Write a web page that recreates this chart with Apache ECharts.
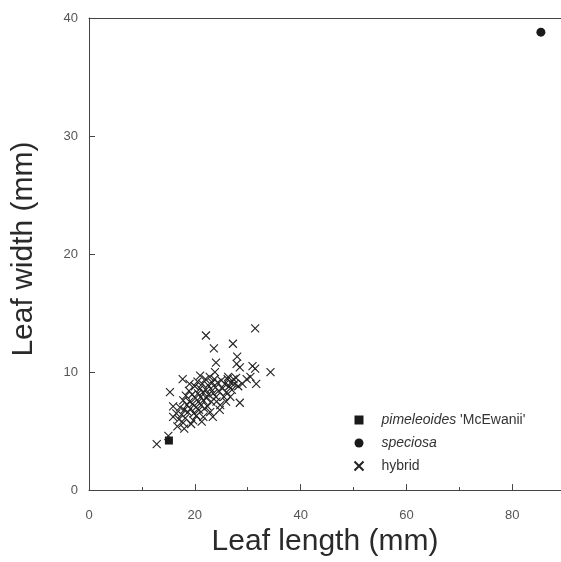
<!DOCTYPE html>
<html>
<head>
<meta charset="utf-8">
<script src="https://cdn.jsdelivr.net/npm/echarts@6/dist/echarts.min.js"></script>
<style>
html,body{margin:0;padding:0;background:#fff;}
#chart{width:561px;height:562px;}
</style>
</head>
<body>
<div id="chart"></div>
<script>
var seriesNames = ["pimeleoides 'McEwanii'", "speciosa", "hybrid"];
var pimeleoidesData = [[15.1, 4.2]];
var speciosaData = [[85.4, 38.8]];
var hybridData = [
  [31.4,13.7],[22.1,13.1],[27.2,12.4],[23.6,12.0],[24.0,10.8],[28.0,11.3],[27.9,10.7],[28.5,10.4],
  [30.9,10.5],[31.4,10.3],[34.3,10.0],[31.6,9.0],[17.7,9.4],[15.3,8.3],[21.0,9.7],[28.5,7.4],
  [12.8,3.9],[15.0,4.6],[26.3,9.6],[27.3,9.4],[29.8,9.4],[25.9,7.5],[24.1,7.5],[23.4,6.2],
  [21.6,6.2],[19.7,5.9],[17.8,5.7],[16.7,5.4],[15.9,6.2],[15.9,7.1],
  [16.5,6.5],[17.0,6.0],[17.2,7.0],[17.5,6.4],[17.8,7.6],[18.0,6.8],[18.2,6.1],[18.3,8.0],
  [18.5,7.2],[18.7,6.6],[18.9,8.4],[19.0,7.5],[19.2,6.9],[19.3,5.6],[19.5,8.1],[19.6,7.3],
  [19.8,6.5],[20.0,8.8],[20.1,7.8],[20.2,7.0],[20.3,6.3],[20.5,9.2],[20.6,8.2],[20.7,7.5],
  [20.8,6.8],[21.0,8.6],[21.1,7.9],[21.2,7.2],[21.4,9.0],[21.5,8.3],[21.6,7.6],[21.8,6.9],
  [22.0,9.4],[22.1,8.5],[22.2,7.8],[22.4,7.1],[22.5,8.9],[22.6,8.1],[22.8,9.6],[23.0,8.6],
  [23.1,7.5],[23.3,9.1],[23.5,8.2],[23.7,9.4],[23.9,8.7],[24.0,7.9],[24.3,9.1],[24.5,8.4],
  [24.7,6.8],[25.0,9.3],[25.2,8.6],[25.5,7.9],[25.7,9.0],[26.0,8.3],[26.2,9.4],[26.5,8.8],
  [26.8,9.1],[27.0,8.5],[27.5,9.0],[27.8,9.5],[28.2,8.8],[22.9,6.6],[24.8,7.2],[19.0,9.0],
  [21.3,5.8],[18.0,5.2],[26.7,7.9],[29.0,9.0],[30.5,9.6],[23.8,10.0]
];
var xTicks = [0, 20, 40, 60, 80];
var yTicks = [0, 10, 20, 30, 40];
var xTitle = "Leaf length (mm)";
var yTitle = "Leaf width (mm)";

var FONT = "'Liberation Sans', Arial, sans-serif";
var INK = '#2a2a2a';
var crossPath = 'path://M0,0L10,10M10,0L0,10';
var X_MAX = 89.2;

var chart = echarts.init(document.getElementById('chart'), null, {renderer: 'canvas'});
chart.setOption({
  backgroundColor: '#fff',
  animation: false,
  grid: {left: 89, top: 18, bottom: 68, right: 0, show: false, containLabel: false},
  legend: {
    orient: 'vertical',
    left: 347,
    top: 408,
    itemWidth: 9,
    itemHeight: 9,
    itemGap: 9,
    data: seriesNames,
    textStyle: {
      fontFamily: FONT, fontSize: 14, color: '#333',
      rich: {
        g: {width: 13},
        i: {fontStyle: 'italic', fontFamily: FONT, fontSize: 14, color: '#333'},
        n: {fontFamily: FONT, fontSize: 14, color: '#333'}
      }
    },
    formatter: function (name) {
      if (name === seriesNames[0]) return "{g|}{i|pimeleoides }{n|'McEwanii'}";
      if (name === seriesNames[1]) return "{g|}{i|speciosa}";
      return "{g|}{n|hybrid}";
    }
  },
  xAxis: [{
    type: 'value', min: 0, max: X_MAX, interval: 20, position: 'bottom',
    name: xTitle, nameLocation: 'middle', nameGap: 31,
    nameTextStyle: {fontFamily: FONT, fontSize: 30, color: INK},
    axisLine: {show: true, lineStyle: {color: '#444', width: 1}},
    axisTick: {show: true, inside: true, length: 6, lineStyle: {color: '#444'}},
    axisLabel: {
      fontFamily: FONT, fontSize: 13, color: '#555', margin: 19, showMaxLabel: false,
      formatter: function (v) { return xTicks.indexOf(v) >= 0 ? String(v) : ''; }
    },
    splitLine: {show: false}
  }, {
    type: 'value', min: 0, max: X_MAX, interval: 10, position: 'bottom', gridIndex: 0,
    axisLine: {show: false},
    axisTick: {show: true, inside: true, length: 3, lineStyle: {color: '#444'}},
    axisLabel: {show: false},
    splitLine: {show: false}
  }, {
    type: 'value', min: 0, max: X_MAX, position: 'top', gridIndex: 0,
    axisLine: {show: true, lineStyle: {color: '#444', width: 1}},
    axisTick: {show: false},
    axisLabel: {show: false},
    splitLine: {show: false}
  }],
  yAxis: {
    type: 'value', min: 0, max: 40, interval: 10,
    name: yTitle, nameLocation: 'middle', nameGap: 50, nameRotate: 90,
    nameTextStyle: {fontFamily: FONT, fontSize: 30, color: INK, padding: [0, 0, 0, 10]},
    axisLine: {show: true, lineStyle: {color: '#444', width: 1}},
    axisTick: {show: true, inside: true, length: 6, lineStyle: {color: '#444'}},
    axisLabel: {
      fontFamily: FONT, fontSize: 13, color: '#555', margin: 11,
      formatter: function (v) { return yTicks.indexOf(v) >= 0 ? String(v) : ''; }
    },
    splitLine: {show: false}
  },
  series: [{
    name: seriesNames[0], type: 'scatter', xAxisIndex: 0, data: pimeleoidesData,
    symbol: 'rect', symbolSize: 8, itemStyle: {color: '#1a1a1a', opacity: 1}
  }, {
    name: seriesNames[1], type: 'scatter', xAxisIndex: 0, data: speciosaData,
    symbol: 'circle', symbolSize: 9, itemStyle: {color: '#1a1a1a', opacity: 1}
  }, {
    name: seriesNames[2], type: 'scatter', xAxisIndex: 0, data: hybridData,
    symbol: crossPath, symbolSize: 8,
    itemStyle: {color: 'none', borderColor: '#222', borderWidth: 1.1, opacity: 1}
  }]
});
</script>
</body>
</html>
